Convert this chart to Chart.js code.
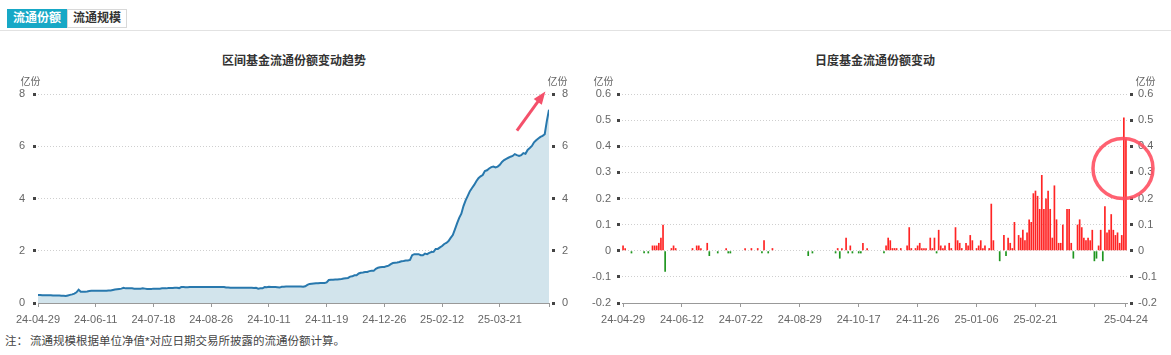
<!DOCTYPE html>
<html>
<head>
<meta charset="utf-8">
<script src="https://cdn.jsdelivr.net/npm/chart.js@4.4.1/dist/chart.umd.min.js"></script>
<style>
body{margin:0;width:1171px;height:355px;background:#fff;position:relative;overflow:hidden;font-family:"Liberation Sans","Noto Sans CJK SC",sans-serif;}
.tab{position:absolute;top:9px;height:19px;line-height:19px;font-size:12px;font-weight:bold;text-align:center;width:60px;box-sizing:border-box;}
.tab.on{left:7px;background:#17a8c6;color:#fff;}
.tab.off{left:67px;border:1px solid #d8d8d8;line-height:17px;color:#333;}
.rule{position:absolute;left:0;width:1171px;top:30px;border-top:1px solid #e2e2e2;}
.title{position:absolute;top:54px;font-size:12px;line-height:14px;font-weight:bold;color:#333;transform:translateX(-50%);white-space:nowrap;}
.note{position:absolute;top:334px;font-size:11.5px;line-height:14px;color:#444;white-space:nowrap;}
canvas{position:absolute;top:40px;}
</style>
</head>
<body>
<div class="tab on">流通份额</div>
<div class="tab off">流通规模</div>
<div class="rule"></div>
<div class="title" style="left:294px">区间基金流通份额变动趋势</div>
<div class="title" style="left:875px">日度基金流通份额变动</div>
<canvas id="shareChart" width="585" height="292" style="left:0"></canvas>
<canvas id="dailyChart" width="586" height="292" style="left:585px"></canvas>
<div class="note" style="left:5px">注：</div>
<div class="note" style="left:30px">流通规模根据单位净值*对应日期交易所披露的流通份额计算。</div>
<script>
// 区间基金流通份额 (亿份), one value per trading day 24-04-29 .. 25-04-24
var shareValues = [
  0.31,0.31,0.30,0.30,0.30,0.30,0.30,0.29,0.29,0.29,
  0.29,0.28,0.28,0.27,0.29,0.31,0.33,0.36,0.41,0.51,
  0.43,0.43,0.43,0.44,0.46,0.47,0.47,0.47,0.47,0.47,
  0.47,0.47,0.47,0.48,0.48,0.50,0.52,0.53,0.54,0.55,
  0.58,0.56,0.56,0.56,0.56,0.55,0.55,0.55,0.55,0.56,
  0.55,0.54,0.54,0.54,0.55,0.55,0.55,0.55,0.56,0.56,
  0.56,0.57,0.57,0.57,0.58,0.58,0.57,0.61,0.61,0.60,
  0.60,0.61,0.61,0.61,0.61,0.61,0.61,0.61,0.61,0.61,
  0.61,0.61,0.61,0.61,0.61,0.61,0.61,0.61,0.59,0.59,
  0.58,0.58,0.58,0.58,0.58,0.58,0.58,0.58,0.58,0.58,
  0.58,0.57,0.58,0.55,0.56,0.56,0.61,0.60,0.62,0.61,
  0.61,0.61,0.60,0.59,0.62,0.62,0.63,0.63,0.63,0.63,
  0.63,0.63,0.63,0.63,0.62,0.64,0.69,0.73,0.74,0.75,
  0.76,0.76,0.77,0.77,0.77,0.79,0.88,0.89,0.89,0.90,
  0.90,0.91,0.92,0.94,0.95,0.96,1.01,1.02,1.06,1.06,
  1.13,1.16,1.17,1.19,1.19,1.22,1.23,1.23,1.31,1.35,
  1.37,1.38,1.38,1.41,1.43,1.49,1.53,1.54,1.55,1.57,
  1.60,1.61,1.63,1.63,1.65,1.83,1.87,1.87,1.87,1.83,
  1.83,1.89,1.87,1.92,1.95,1.96,2.07,2.07,2.13,2.18,
  2.26,2.30,2.37,2.49,2.60,2.82,3.05,3.26,3.42,3.71,
  3.93,4.10,4.28,4.40,4.52,4.66,4.78,4.85,4.90,5.05,
  5.08,5.15,5.20,5.22,5.19,5.22,5.29,5.40,5.47,5.52,
  5.56,5.60,5.63,5.70,5.66,5.63,5.66,5.74,5.71,5.86,
  5.93,6.01,6.15,6.23,6.30,6.36,6.40,6.46,6.97,7.40
];
var shareTickIndex = [0, 27, 54, 81, 108, 135, 162, 189, 216, 239];
var shareTickLabels = ['24-04-29', '24-06-11', '24-07-18', '24-08-26', '24-10-11', '24-11-19', '24-12-26', '25-02-12', '25-03-21', ''];

// 日度基金流通份额变动 (亿份)
var dailyValues = [
  0.02,0.01,0,0,-0.01,0,0,0,0,0, -0.01,0,-0.01,0,0.02,0.02,0.02,0.03,0.05,0.10,
  -0.08,0,0,0.01,0.02,0.01,0,0,0,0, 0,0,0,0.01,0,0.02,0.02,0.01,0,0,
  0.03,-0.02,0,0,0,-0.01,0,0,0,0.01, -0.01,-0.01,0,0,0,0,0,0,0.01,0,
  0,0.01,0,0,0.01,0,-0.01,0.04,0,-0.01, 0,0.01,0,0,0,0,0,0,0,0,
  0,0,0,0,0,0,0,0,-0.02,0, -0.01,0,0,0,0,0,0,0,0,0,
  0,-0.01,0.01,-0.03,0.01,0,0.05,-0.01,0.02,-0.01, 0,0,-0.01,-0.01,0.03,0,0.01,0,0,0,
  0,0,0,0,-0.01,0.02,0.05,0.04,0.01,0.01, 0.01,0,0.01,0,0,0.02,0.09,0.01,0,0.01,
  0.02,0.03,0.01,0.01,0.01,0,0.05,0.01,0.05,-0.01, 0.08,0.02,0.01,0.02,0,0.03,0.01,0,0.09,0.04,
  0.03,0.01,0,0.03,0.02,0.06,0.04,0,0.01,0.02, 0.04,0.01,0.02,0,0.01,0.18,0.04,0,0,-0.04,
  0,0.06,-0.02,0.05,0.03,0.01,0.11,0,0.06,0.05, 0.08,0.04,0.07,0.12,0.11,0.22,0.23,0.21,0.16,0.29,
  0.16,0.20,0.23,0.16,0.05,0.25,0.12,0.03,0.03,0.10, 0,0.16,0.16,0.03,-0.03,0,0.10,0.12,0.09,0.05,
  0.04,0.05,0.04,0.08,-0.04,-0.03,0.02,0.08,-0.04,0.17, 0.07,0.08,0.14,0.08,0.06,0.07,0.03,0.06,0.51,0.43
];
var dailyTickIndex = [0, 28, 56, 84, 112, 140, 168, 196, 224, 239];
var dailyTickLabels = ['24-04-29', '24-06-12', '24-07-22', '24-08-29', '24-10-17', '24-11-26', '25-01-06', '25-02-21', '', '25-04-24'];

Chart.defaults.font.family = '"Liberation Sans","Noto Sans CJK SC",sans-serif';
Chart.defaults.animation = false;

// y axis with the little square tick marks
function sideAxis(pos, min, max, step, pad, width) {
	return {
		position: pos,
		min: min,
		max: max,
		ticks: { stepSize: step, color: '#666', font: { size: 11 }, padding: pad },
		grid: {
			drawOnChartArea: pos == 'left',
			color: '#cfcfcf',
			tickLength: 6,
			tickWidth: 3,
			tickColor: '#444',
			tickBorderDash: pos == 'left' ? [0, 1, 3, 10] : [0, 3, 3, 10]
		},
		border: { display: false, dash: [1, 2] },
		afterFit: function (s) { s.width = width; }
	};
}

function bottomAxis(min, max, idx, labels) {
	return {
		type: 'linear',
		min: min,
		max: max,
		offset: false,
		afterBuildTicks: function (s) {
			s.ticks = idx.map(function (v) { return { value: v }; });
		},
		ticks: {
			autoSkip: false, maxRotation: 0, color: '#666', font: { size: 11 }, padding: 6,
			callback: function (v, i) { return labels[i]; }
		},
		grid: { drawOnChartArea: false, offset: false, tickLength: 4, tickColor: '#999' },
		border: { display: true, color: '#999' },
		afterFit: function (s) { s.height = 29; }
	};
}

function unitPlugin(lOff, rOff) {
	return {
		id: 'unit',
		afterDraw: function (c) {
			var ctx = c.ctx;
			ctx.save();
			ctx.font = '10px "Liberation Sans","Noto Sans CJK SC",sans-serif';
			ctx.fillStyle = '#666';
			ctx.textAlign = 'center';
			ctx.textBaseline = 'middle';
			var y = c.chartArea.top - 12;
			ctx.fillText('亿份', c.scales.y.right - lOff, y);
			ctx.fillText('亿份', c.scales.y2.left + rOff, y);
			ctx.restore();
		}
	};
}

var arrowPlugin = {
	id: 'arrow',
	afterDraw: function (c) {
		var x = c.scales.x, y = c.scales.y, ctx = c.ctx;
		var x0 = x.getPixelForValue(224), y0 = y.getPixelForValue(6.6);
		var x1 = x.getPixelForValue(237.3), y1 = y.getPixelForValue(8.1);
		var a = Math.atan2(y1 - y0, x1 - x0), ca = Math.cos(a), sa = Math.sin(a);
		ctx.save();
		ctx.strokeStyle = ctx.fillStyle = '#f4506a';
		ctx.lineWidth = 3;
		ctx.beginPath();
		ctx.moveTo(x0, y0);
		ctx.lineTo(x1 - 9 * ca, y1 - 9 * sa);
		ctx.stroke();
		ctx.beginPath();
		ctx.moveTo(x1, y1);
		ctx.lineTo(x1 - 13 * ca + 5 * sa, y1 - 13 * sa - 5 * ca);
		ctx.lineTo(x1 - 13 * ca - 5 * sa, y1 - 13 * sa + 5 * ca);
		ctx.closePath();
		ctx.fill();
		ctx.restore();
	}
};

var circlePlugin = {
	id: 'circle',
	afterDraw: function (c) {
		var ctx = c.ctx;
		ctx.save();
		ctx.strokeStyle = 'rgba(255,80,98,0.9)';
		ctx.lineWidth = 3.5;
		ctx.beginPath();
		ctx.arc(c.scales.x.getPixelForValue(237.6), c.scales.y.getPixelForValue(0.315), 30, 0, Math.PI * 2);
		ctx.stroke();
		ctx.restore();
	}
};

new Chart(document.getElementById('shareChart'), {
	type: 'line',
	data: {
		datasets: [{
			data: shareValues.map(function (v, i) { return { x: i, y: v }; }),
			borderColor: '#2878ad',
			borderWidth: 2,
			backgroundColor: '#d2e4ec',
			fill: 'origin',
			pointRadius: 0,
			tension: 0
		}]
	},
	options: {
		responsive: false,
		devicePixelRatio: 1,
		layout: { padding: { top: 54, left: 0, right: 0, bottom: 0 } },
		plugins: { legend: { display: false }, tooltip: { enabled: false } },
		scales: {
			x: bottomAxis(0, 239, shareTickIndex, shareTickLabels),
			y: sideAxis('left', 0, 8, 2, 7, 38),
			y2: sideAxis('right', 0, 8, 2, 7, 36)
		}
	},
	plugins: [unitPlugin(7.5, 8.5), arrowPlugin]
});

new Chart(document.getElementById('dailyChart'), {
	type: 'bar',
	data: {
		datasets: [{
			data: dailyValues.map(function (v, i) { return { x: i, y: v }; }),
			backgroundColor: function (ctx) {
				return ctx.parsed && ctx.parsed.y < 0 ? '#1f961f' : '#ff2424';
			},
			categoryPercentage: 1,
			barPercentage: 0.8
		}]
	},
	options: {
		responsive: false,
		devicePixelRatio: 1,
		layout: { padding: { top: 54, left: 0, right: 0, bottom: 0 } },
		plugins: { legend: { display: false }, tooltip: { enabled: false } },
		scales: {
			x: bottomAxis(-0.5, 239.5, dailyTickIndex, dailyTickLabels),
			y: sideAxis('left', -0.2, 0.6, 0.1, 5, 37),
			y2: sideAxis('right', -0.2, 0.6, 0.1, 5, 44)
		}
	},
	plugins: [unitPlugin(18.5, 18.5), circlePlugin]
});
</script>
</body>
</html>
